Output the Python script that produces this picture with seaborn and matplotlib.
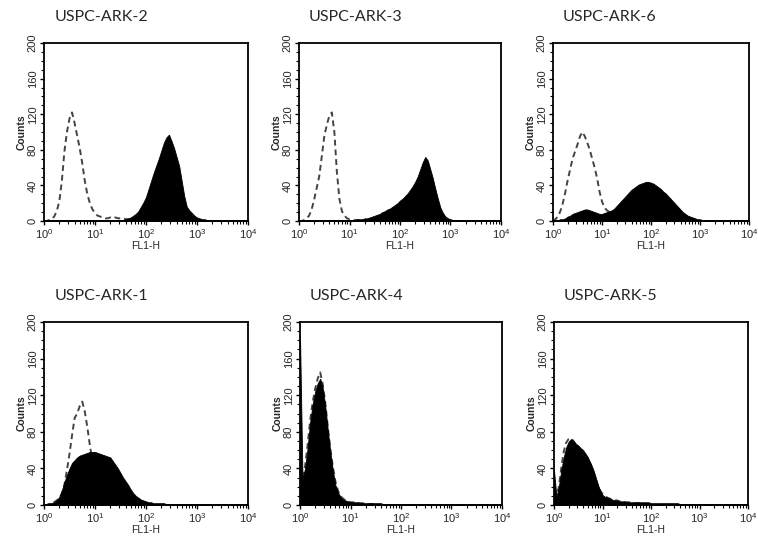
import numpy as np
import pandas as pd
import matplotlib
matplotlib.use("Agg")
import matplotlib.pyplot as plt
import seaborn as sns
from matplotlib.ticker import MultipleLocator, LogLocator, NullFormatter

# channel positions in log10 decades (0.05 decade bins, 10^0 .. 10^4)
channels = np.round(np.arange(81) * 0.05, 2)

titles = ["USPC-ARK-2", "USPC-ARK-3", "USPC-ARK-6",
          "USPC-ARK-1", "USPC-ARK-4", "USPC-ARK-5"]

# dashed = isotype control, filled = stained sample (counts per channel)
ark2_ctrl = [0, 0, 1, 2, 5, 11, 22, 45, 78, 100,
             115, 122, 110, 96, 82, 65, 45, 30, 20, 13,
             9, 6, 5, 4, 3, 3, 4, 3, 4, 3,
             3, 3, 2, 2, 1, 1, 0, 0, 0, 0,
             0, 0, 0, 0, 0, 0, 0, 0, 0, 0,
             0, 0, 0, 0, 0, 0, 0, 0, 0, 0,
             0, 0, 0, 0, 0, 0, 0, 0, 0, 0,
             0, 0, 0, 0, 0, 0, 0, 0, 0, 0,
             0]
ark2_fill = [1, 1, 1, 1, 1, 1, 1, 1, 1, 1,
             1, 1, 1, 1, 1, 1, 1, 1, 1, 1,
             1, 1, 1, 1, 1, 1, 1, 1, 1, 1,
             1, 1, 2, 3, 4, 6, 8, 11, 16, 21,
             27, 36, 45, 54, 62, 70, 79, 88, 94, 97,
             90, 82, 72, 62, 45, 28, 16, 12, 9, 6,
             4, 3, 2, 2, 1, 1, 1, 1, 1, 1,
             1, 1, 1, 1, 1, 1, 1, 1, 1, 1,
             1]

ark3_ctrl = [0, 0, 1, 3, 6, 13, 24, 37, 50, 72,
             95, 108, 118, 122, 100, 55, 25, 11, 6, 3,
             2, 2, 1, 1, 1, 0, 0, 0, 0, 0,
             0, 0, 0, 0, 0, 0, 0, 0, 0, 0,
             0, 0, 0, 0, 0, 0, 0, 0, 0, 0,
             0, 0, 0, 0, 0, 0, 0, 0, 0, 0,
             0, 0, 0, 0, 0, 0, 0, 0, 0, 0,
             0, 0, 0, 0, 0, 0, 0, 0, 0, 0,
             0]
ark3_fill = [1, 1, 1, 1, 1, 1, 1, 1, 1, 1,
             1, 1, 1, 1, 1, 1, 1, 1, 1, 1,
             1, 1, 1, 2, 2, 2, 3, 3, 4, 5,
             6, 7, 8, 10, 11, 13, 14, 16, 18, 20,
             23, 25, 28, 31, 35, 39, 44, 50, 58, 66,
             72, 68, 58, 48, 36, 25, 15, 9, 5, 3,
             2, 1, 1, 1, 1, 1, 1, 1, 1, 1,
             1, 1, 1, 1, 1, 1, 1, 1, 1, 1,
             1]

ark6_ctrl = [0, 2, 5, 11, 20, 32, 46, 58, 70, 78,
             86, 95, 100, 95, 88, 80, 70, 60, 48, 33,
             22, 15, 12, 10, 8, 6, 4, 3, 2, 2,
             1, 0, 0, 0, 0, 0, 0, 0, 0, 0,
             0, 0, 0, 0, 0, 0, 0, 0, 0, 0,
             0, 0, 0, 0, 0, 0, 0, 0, 0, 0,
             0, 0, 0, 0, 0, 0, 0, 0, 0, 0,
             0, 0, 0, 0, 0, 0, 0, 0, 0, 0,
             0]
ark6_fill = [0, 1, 1, 2, 2, 3, 5, 6, 8, 9,
             10, 11, 12, 13, 13, 12, 11, 10, 9, 8,
             8, 9, 10, 11, 12, 14, 17, 20, 23, 26,
             29, 32, 35, 37, 39, 41, 42, 43, 44, 44,
             43, 42, 40, 38, 36, 33, 31, 28, 25, 22,
             19, 16, 13, 10, 8, 6, 5, 4, 3, 2,
             2, 1, 1, 1, 1, 1, 1, 1, 1, 1,
             1, 1, 1, 1, 1, 1, 1, 1, 1, 1,
             1]

ark1_ctrl = [0, 0, 1, 2, 3, 5, 8, 12, 22, 38,
             56, 76, 95, 100, 108, 113, 102, 85, 65, 48,
             35, 24, 15, 10, 6, 4, 3, 2, 1, 1,
             0, 0, 0, 0, 0, 0, 0, 0, 0, 0,
             0, 0, 0, 0, 0, 0, 0, 0, 0, 0,
             0, 0, 0, 0, 0, 0, 0, 0, 0, 0,
             0, 0, 0, 0, 0, 0, 0, 0, 0, 0,
             0, 0, 0, 0, 0, 0, 0, 0, 0, 0,
             0]
ark1_fill = [1, 1, 2, 2, 3, 5, 9, 16, 25, 33,
             40, 46, 49, 52, 54, 55, 56, 57, 58, 58,
             58, 57, 56, 55, 54, 53, 52, 48, 44, 40,
             35, 30, 26, 22, 17, 13, 10, 8, 6, 5,
             4, 3, 3, 2, 2, 2, 2, 2, 1, 1,
             1, 1, 1, 1, 1, 1, 1, 1, 1, 1,
             1, 1, 1, 1, 1, 1, 1, 1, 1, 1,
             1, 1, 1, 1, 1, 1, 1, 1, 1, 1,
             1]

ark4_ctrl = [30, 25, 42, 65, 92, 112, 127, 138, 145, 132,
             112, 86, 62, 42, 26, 16, 10, 7, 5, 4,
             3, 3, 2, 2, 2, 2, 1, 1, 1, 1,
             0, 0, 0, 0, 0, 0, 0, 0, 0, 0,
             0, 0, 0, 0, 0, 0, 0, 0, 0, 0,
             0, 0, 0, 0, 0, 0, 0, 0, 0, 0,
             0, 0, 0, 0, 0, 0, 0, 0, 0, 0,
             0, 0, 0, 0, 0, 0, 0, 0, 0, 0,
             0]
ark4_fill = [185, 28, 40, 62, 90, 110, 124, 133, 138, 128,
             108, 82, 58, 38, 22, 14, 9, 6, 5, 4,
             3, 3, 3, 3, 2, 2, 2, 2, 2, 2,
             2, 2, 2, 1, 1, 1, 1, 1, 1, 1,
             1, 1, 1, 1, 1, 1, 1, 1, 1, 1,
             1, 1, 1, 1, 1, 1, 1, 1, 1, 1,
             1, 1, 1, 1, 1, 1, 1, 1, 1, 1,
             1, 1, 1, 1, 1, 1, 1, 1, 1, 1,
             1]

ark5_ctrl = [5, 8, 20, 40, 58, 68, 72, 73, 70, 66,
             63, 61, 59, 55, 50, 45, 38, 30, 22, 16,
             12, 10, 8, 7, 6, 5, 5, 4, 4, 3,
             3, 3, 2, 2, 2, 2, 2, 1, 1, 1,
             0, 0, 0, 0, 0, 0, 0, 0, 0, 0,
             0, 0, 0, 0, 0, 0, 0, 0, 0, 0,
             0, 0, 0, 0, 0, 0, 0, 0, 0, 0,
             0, 0, 0, 0, 0, 0, 0, 0, 0, 0,
             0]
ark5_fill = [38, 9, 20, 38, 52, 63, 69, 72, 70, 67,
             65, 62, 60, 56, 52, 46, 40, 32, 23, 16,
             11, 9, 8, 7, 6, 5, 5, 4, 4, 4,
             3, 3, 3, 3, 3, 3, 3, 3, 3, 3,
             2, 2, 2, 2, 2, 2, 2, 2, 2, 2,
             2, 2, 1, 1, 1, 1, 1, 1, 1, 1,
             1, 1, 1, 1, 1, 1, 1, 1, 1, 1,
             1, 1, 1, 1, 1, 1, 1, 1, 1, 1,
             1]

controls = [ark2_ctrl, ark3_ctrl, ark6_ctrl, ark1_ctrl, ark4_ctrl, ark5_ctrl]
filled = [ark2_fill, ark3_fill, ark6_fill, ark1_fill, ark4_fill, ark5_fill]

sns.set_style("ticks")
plt.rcParams['font.family'] = ['Liberation Sans', 'DejaVu Sans']
plt.rcParams['mathtext.fontset'] = 'custom'
plt.rcParams['mathtext.rm'] = 'Liberation Sans'

fig = plt.figure(figsize=(7.58, 5.51), dpi=100)
W, H = 758, 551
# axes boxes in pixels: left, top, right, bottom
boxes = [(44, 43, 248, 221), (299, 43, 501, 221), (553, 43, 749, 221),
         (44, 322, 248, 505), (300, 322, 502, 505), (554, 322, 748, 505)]

for i, (l, t, r, b) in enumerate(boxes):
    ax = fig.add_axes([l / W, 1 - b / H, (r - l) / W, (b - t) / H])
    df = pd.DataFrame({'fl1': 10 ** channels,
                       'ctrl': controls[i],
                       'sample': filled[i]})
    ax.fill_between(df['fl1'], df['sample'], 0, color='black', lw=0.6,
                    edgecolor='black', zorder=3)
    sns.lineplot(data=df, x='fl1', y='ctrl', ax=ax, color='#444444',
                 lw=1.4, linestyle=(0, (3, 2)), zorder=2)
    ax.set_xscale('log')
    ax.set_xlim(1, 1e4)
    ax.set_ylim(0, 200)
    ax.xaxis.set_major_locator(LogLocator(base=10, numticks=10))
    ax.xaxis.set_minor_locator(LogLocator(base=10, subs=np.arange(2, 10), numticks=10))
    ax.xaxis.set_minor_formatter(NullFormatter())
    ax.yaxis.set_major_locator(MultipleLocator(40))
    ax.yaxis.set_minor_locator(MultipleLocator(10))
    ax.tick_params(axis='both', which='major', direction='out', length=3,
                   width=1.0, labelsize=8, pad=1.5, color='black')
    ax.tick_params(axis='both', which='minor', direction='out', length=2,
                   width=0.8, color='black')
    for lab in ax.get_yticklabels():
        lab.set_rotation(90)
        lab.set_va('center')
    for sp in ax.spines.values():
        sp.set_linewidth(1.3)
        sp.set_color('black')
    ax.set_xlabel('FL1-H', fontsize=7.5, labelpad=0)
    ax.set_ylabel('Counts', fontsize=7.5, fontweight='bold', labelpad=1)
    ax.text(0.05, 1 + 26 / (b - t), titles[i], transform=ax.transAxes,
            ha='left', va='center', fontsize=11.5, family=['Lato', 'DejaVu Sans'])

fig.savefig('out.png', dpi=100)
